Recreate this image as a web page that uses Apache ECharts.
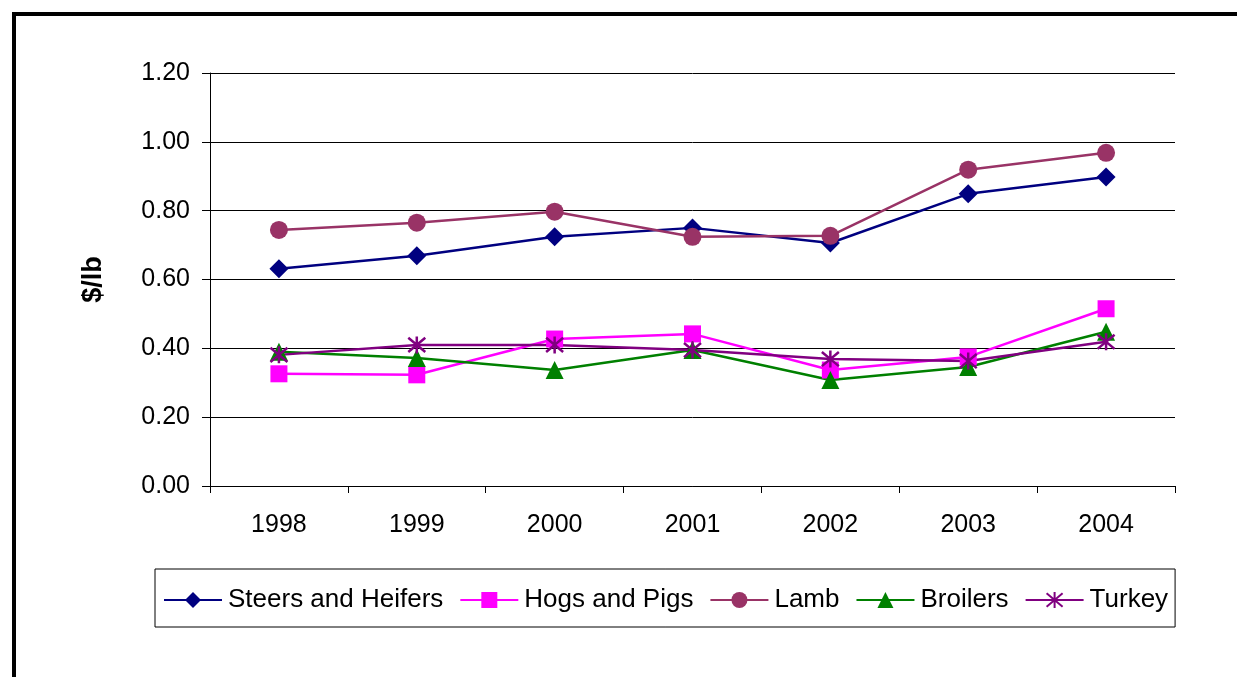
<!DOCTYPE html>
<html>
<head>
<meta charset="utf-8">
<script src="https://cdn.jsdelivr.net/npm/echarts@6/dist/echarts.min.js"></script>
<style>
  html, body { margin: 0; padding: 0; background: #fff; }
  #chart { width: 1237px; height: 677px; }
</style>
</head>
<body>
<div id="chart"></div>
<script>
var years = ['1998', '1999', '2000', '2001', '2002', '2003', '2004'];
var steers = [0.631, 0.669, 0.724, 0.750, 0.706, 0.849, 0.898];
var hogs = [0.326, 0.323, 0.427, 0.442, 0.337, 0.375, 0.515];
var lamb = [0.744, 0.765, 0.797, 0.724, 0.727, 0.919, 0.968];
var broilers = [0.390, 0.372, 0.337, 0.395, 0.308, 0.346, 0.448];
var turkey = [0.381, 0.410, 0.410, 0.395, 0.369, 0.363, 0.419];

var chartDom = document.getElementById('chart');
var myChart = echarts.init(chartDom);

var font = 'Liberation Sans, Arial, sans-serif';
var asterisk = 'path://M0,0L10,10M10,0L0,10M5,-1L5,11';

function makeSeries(name, data, color, symbol, size, extra) {
    var s = {
        name: name,
        type: 'line',
        data: data,
        symbol: symbol,
        symbolSize: size,
        lineStyle: { color: color, width: 2.5 },
        itemStyle: { color: color },
        emphasis: { disabled: true },
        animation: false
    };
    if (extra) {
        s.itemStyle = extra;
    }
    return s;
}

var option = {
    textStyle: { fontFamily: font },
    graphic: [
        {
            type: 'rect',
            shape: { x: 14, y: 14, width: 1400, height: 800 },
            style: { fill: 'none', stroke: '#000', lineWidth: 4 },
            silent: true
        }
    ],
    legend: {
        left: 155,
        top: 569,
        padding: [18, 7, 14, 8],
        itemGap: 16,
        itemWidth: 58,
        itemHeight: 20,
        borderColor: '#000',
        borderWidth: 1,
        textStyle: { fontSize: 26, color: '#000', fontFamily: font, padding: [0, 0, 0, 1] },
        data: ['Steers and Heifers', 'Hogs and Pigs', 'Lamb', 'Broilers', 'Turkey']
    },
    grid: {
        left: 210,
        right: 62,
        top: 73,
        bottom: 191,
        containLabel: false
    },
    xAxis: {
        type: 'category',
        data: years,
        boundaryGap: true,
        axisLine: { lineStyle: { color: '#000', width: 1 } },
        axisTick: { show: true, length: 7, alignWithLabel: false, lineStyle: { color: '#000' } },
        axisLabel: { fontSize: 25, color: '#000', margin: 27, fontFamily: font }
    },
    yAxis: {
        type: 'value',
        min: 0,
        max: 1.2,
        interval: 0.2,
        name: '$/lb',
        nameLocation: 'middle',
        nameGap: 103,
        nameRotate: 90,
        nameTextStyle: { fontSize: 27, fontWeight: 'bold', color: '#000', fontFamily: font },
        axisLine: { show: true, lineStyle: { color: '#000', width: 1 } },
        axisTick: { show: true, length: 8, lineStyle: { color: '#000' } },
        axisLabel: {
            fontSize: 25,
            color: '#000',
            margin: 20,
            fontFamily: font,
            formatter: function (v) { return v.toFixed(2); }
        },
        splitLine: { show: true, lineStyle: { color: '#000', width: 1 } }
    },
    series: [
        makeSeries('Steers and Heifers', steers, '#000080', 'diamond', 19),
        makeSeries('Hogs and Pigs', hogs, '#FF00FF', 'rect', 17),
        makeSeries('Lamb', lamb, '#993366', 'circle', 18),
        makeSeries('Broilers', broilers, '#008000', 'triangle', 18),
        makeSeries('Turkey', turkey, '#800080', asterisk, 17,
            { color: '#800080', borderColor: '#800080', borderWidth: 2.5 })
    ]
};

option && myChart.setOption(option);
</script>
</body>
</html>
